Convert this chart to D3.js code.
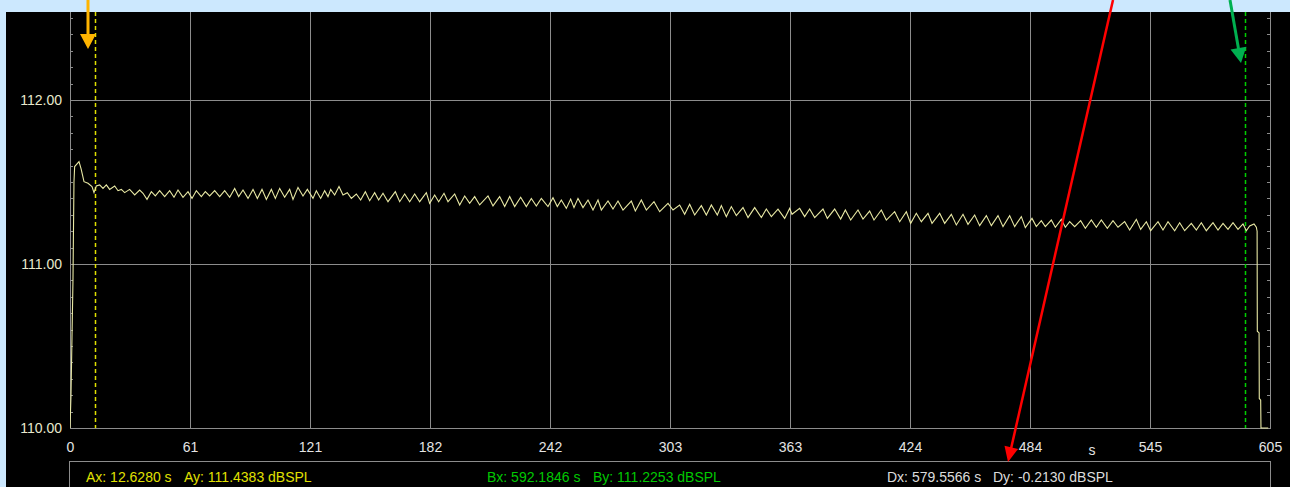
<!DOCTYPE html>
<html><head><meta charset="utf-8">
<script src="https://cdn.jsdelivr.net/npm/d3@7"></script>
<style>
html,body{margin:0;padding:0;background:#cce8fe;overflow:hidden}
svg{display:block}
text{font-family:"Liberation Sans",Arial,sans-serif}
</style></head><body>
<svg id="c" width="1290" height="487"></svg>
<script>
// ---- data (time in s, level in dBSPL) ----
const times = [0,0.5,1.0,1.5,2.0,2.35,4.54,5.6,7.06,9.08,11.09,12.10,13.28,
14.96,16.64,18.32,20.00,22.52,24.20,25.88,27.56,30.08,32.61,35.13,36.81,38.82,41.01,43.02,45.20,47.73,50.25,52.43,54.45,56.97,59.49,61.51,63.69,66.21,68.23,70.41,72.93,75.46,77.98,80.50,83.02,85.04,87.22,89.75,92.27,94.45,96.80,98.99,101.51,103.53,105.71,108.23,110.75,112.43,114.95,117.47,119.66,
122.51,124.19,126.38,128.39,130.07,131.42,133.43,135.62,137.64,139.82,141.84,144.36,146.54,148.90,151.08,153.60,155.62,157.80,160.32,164.02,166.21,168.73,171.25,173.77,176.29,179.65,181.33,183.85,185.87,188.56,190.58,193.94,196.46,198.98,201.50,204.02,206.54,210.74,213.26,216.62,219.15,221.67,224.19,227.21,230.07,232.59,235.11,237.63,240.99,
243.51,245.70,247.71,250.23,252.42,254.10,256.12,258.64,261.16,263.68,266.20,267.88,271.24,273.76,276.28,278.80,283.01,285.02,288.05,290.57,294.43,297.29,301.49,304.01,307.37,309.89,312.42,314.94,318.30,320.82,323.34,326.36,328.38,330.90,333.42,335.94,339.31,341.83,345.19,348.55,351.07,353.59,356.95,360.31,362.83,
364.01,367.87,370.39,372.91,375.44,379.64,381.82,385.52,388.54,390.90,393.59,397.28,399.80,403.16,405.35,409.05,411.57,415.77,418.29,421.65,423.84,426.69,429.21,432.58,434.59,438.46,440.98,444.34,446.86,450.22,452.74,456.10,458.62,461.99,464.51,467.87,470.39,473.75,476.27,479.63,481.65,
485.01,487.19,489.71,491.73,494.75,496.77,499.80,501.81,504.00,506.52,509.54,511.90,514.92,517.44,519.96,522.99,525.85,528.37,531.73,534.25,537.61,539.79,542.65,544.84,548.53,551.05,553.58,556.94,559.46,561.98,565.34,567.86,570.38,572.90,576.26,578.78,581.31,583.83,586.35,588.87,591.39,593.07,594.75,596.93,598.11,
598.5,598.6,599.5,599.6,600.3,600.45,604.1];
const levels = [110.00,110.20,110.55,110.90,111.50,111.594,111.624,111.58,111.502,111.492,111.472,111.435,111.476,
111.482,111.461,111.482,111.455,111.476,111.447,111.455,111.435,111.455,111.421,111.451,111.431,111.394,111.441,111.415,111.447,111.411,111.447,111.407,111.451,111.407,111.441,111.400,111.447,111.411,111.441,111.415,111.447,111.411,111.447,111.407,111.461,111.411,111.451,111.400,111.455,111.400,111.455,111.394,111.455,111.400,111.461,111.407,111.455,111.394,111.467,111.415,111.455,
111.400,111.447,111.400,111.447,111.411,111.455,111.421,111.472,111.421,111.435,111.400,111.427,111.390,111.441,111.386,111.435,111.390,111.431,111.380,111.441,111.380,111.427,111.380,111.427,111.380,111.435,111.370,111.421,111.380,111.431,111.380,111.427,111.360,111.415,111.370,111.411,111.360,111.415,111.354,111.411,111.350,111.411,111.350,111.407,111.350,111.400,111.354,111.400,111.350,
111.404,111.350,111.390,111.339,111.396,111.344,111.400,111.344,111.390,111.329,111.390,111.329,111.384,111.335,111.384,111.329,111.384,111.323,111.390,111.329,111.380,111.319,111.370,111.329,111.360,111.303,111.364,111.299,111.356,111.299,111.360,111.299,111.356,111.289,111.350,111.295,111.344,111.283,111.344,111.283,111.335,111.289,111.335,111.278,111.339,
111.303,111.339,111.289,111.335,111.283,111.335,111.278,111.335,111.274,111.329,111.268,111.329,111.274,111.323,111.268,111.329,111.268,111.319,111.258,111.319,111.248,111.309,111.258,111.309,111.248,111.309,111.248,111.303,111.238,111.303,111.242,111.299,111.234,111.295,111.234,111.295,111.228,111.295,111.228,111.289,111.222,
111.278,111.228,111.264,111.228,111.268,111.224,111.272,111.224,111.258,111.228,111.264,111.218,111.268,111.224,111.268,111.218,111.264,111.224,111.258,111.207,111.272,111.211,111.258,111.203,111.258,111.207,111.258,111.203,111.252,111.203,111.248,111.207,111.252,111.203,111.252,111.207,111.248,111.211,111.252,111.211,111.244,111.203,111.232,111.244,111.224,
111.20,110.59,110.58,110.18,110.17,110.00,110.00];

const xTickValues = [0,60.5,121,181.5,242,302.5,363,423.5,484,544.5,605];
const xTickLabels = ["0","61","121","182","242","303","363","424","484","545","605"];
const yTickValues = [110,111,112];
const yTickLabels = ["110.00","111.00","112.00"];
const xUnit = "s";
const yUnit = "dBSPL";
const cursorA = {x:12.6280, y:111.4383};
const cursorB = {x:592.1846, y:111.2253};

// ---- layout ----
const svg = d3.select("#c");
const panel = {x:6, y:12, w:1284, h:475};
const plot = {l:70, r:1270, t:12, b:428};
const x = d3.scaleLinear().domain([0,605]).range([plot.l, plot.r]);
const y = d3.scaleLinear().domain([110,112]).range([plot.b, 100]);
const gridCol = "#8c8c8c";

svg.append("rect").attr("x",panel.x).attr("y",panel.y).attr("width",panel.w).attr("height",panel.h).attr("fill","#000");

svg.append("defs").append("clipPath").attr("id","pc")
  .append("rect").attr("x",plot.l).attr("y",plot.t).attr("width",plot.r-plot.l+1).attr("height",plot.b-plot.t+1);

const g = svg.append("g");
g.selectAll("line.vg").data(xTickValues).join("line")
  .attr("x1",d=>Math.round(x(d))+0.5).attr("x2",d=>Math.round(x(d))+0.5)
  .attr("y1",plot.t).attr("y2",plot.b).attr("stroke",gridCol).attr("stroke-width",1);
g.selectAll("line.hg").data(yTickValues).join("line")
  .attr("x1",plot.l).attr("x2",plot.r)
  .attr("y1",d=>Math.round(y(d))+0.5).attr("y2",d=>Math.round(y(d))+0.5)
  .attr("stroke",gridCol).attr("stroke-width",1);
const minor = d3.range(0,26).map(i=>110+i*0.1).filter(v=>y(v)>=plot.t);
g.selectAll("line.ml").data(minor).join("line")
  .attr("x1",plot.l).attr("x2",plot.l+3)
  .attr("y1",d=>Math.round(y(d))+0.5).attr("y2",d=>Math.round(y(d))+0.5)
  .attr("stroke",gridCol);
g.selectAll("line.mr").data(minor).join("line")
  .attr("x1",plot.r-3).attr("x2",plot.r)
  .attr("y1",d=>Math.round(y(d))+0.5).attr("y2",d=>Math.round(y(d))+0.5)
  .attr("stroke",gridCol);

const ax = svg.append("g").attr("transform",`translate(0,${plot.b})`)
  .call(d3.axisBottom(x).tickValues(xTickValues).tickFormat((d,i)=>xTickLabels[i]).tickSize(0).tickPadding(14));
ax.select(".domain").remove();
ax.selectAll("text").attr("fill","#e4e4e4").attr("font-size",14).attr("font-family","Liberation Sans, Arial, sans-serif");
const ay = svg.append("g").attr("transform",`translate(${plot.l},0)`)
  .call(d3.axisLeft(y).tickValues(yTickValues).tickFormat((d,i)=>yTickLabels[i]).tickSize(0).tickPadding(8));
ay.select(".domain").remove();
ay.selectAll("text").attr("fill","#e8e8cc").attr("font-size",14).attr("font-family","Liberation Sans, Arial, sans-serif");
svg.append("text").attr("x",(x(xTickValues[8])+x(xTickValues[9]))/2+2).attr("y",plot.b+27)
  .attr("text-anchor","middle").attr("fill","#e4e4e4").attr("font-size",14).text(xUnit);

g.append("line").attr("x1",plot.l+0.5).attr("x2",plot.l+0.5).attr("y1",plot.t).attr("y2",plot.b).attr("stroke",gridCol);
g.append("line").attr("x1",plot.r+0.5).attr("x2",plot.r+0.5).attr("y1",plot.t).attr("y2",plot.b).attr("stroke",gridCol);
g.append("line").attr("x1",plot.l).attr("x2",plot.r+1).attr("y1",plot.b+0.5).attr("y2",plot.b+0.5).attr("stroke",gridCol);

const cur = svg.append("g");
[[cursorA,"#e0e000"],[cursorB,"#00d000"]].forEach(([c,col])=>{
  cur.append("line").attr("x1",Math.round(x(c.x))+0.5).attr("x2",Math.round(x(c.x))+0.5)
    .attr("y1",plot.t).attr("y2",plot.b).attr("stroke",col).attr("stroke-width",1.5).attr("stroke-dasharray","4,3");
});

const data = times.map((t,i)=>({t, v:levels[i]}));
svg.append("path").datum(data).attr("clip-path","url(#pc)")
  .attr("fill","none").attr("stroke","#e8e8a4").attr("stroke-width",1.1)
  .attr("d", d3.line().x(d=>x(d.t)).y(d=>y(d.v)));

svg.append("rect").attr("x",plot.l-0.5).attr("y",461.5).attr("width",plot.r-plot.l+1).attr("height",40)
  .attr("fill","none").attr("stroke",gridCol);
const fmt4 = v => d3.format(".4f")(v).replace("\u2212","-");
const readouts = [
  {t:`Ax: ${fmt4(cursorA.x)} ${xUnit}`, x:86, c:"#e0e000"},
  {t:`Ay: ${fmt4(cursorA.y)} ${yUnit}`, x:184, c:"#e0e000"},
  {t:`Bx: ${fmt4(cursorB.x)} ${xUnit}`, x:487, c:"#00c800"},
  {t:`By: ${fmt4(cursorB.y)} ${yUnit}`, x:593, c:"#00c800"},
  {t:`Dx: ${fmt4(cursorB.x-cursorA.x)} ${xUnit}`, x:887, c:"#dcdcdc"},
  {t:`Dy: ${fmt4(cursorB.y-cursorA.y)} ${yUnit}`, x:993, c:"#dcdcdc"}
];
svg.selectAll("text.ro").data(readouts).join("text").attr("class","ro")
  .attr("x",d=>d.x).attr("y",482).attr("fill",d=>d.c).attr("font-size",14).text(d=>d.t);

const arrows = [
  {x1:88, y1:0, x2:88, y2:49, c:"#ffb400", w:3, hw:8, hl:15},
  {x1:1230, y1:0, x2:1241, y2:63, c:"#00b050", w:3, hw:8, hl:15},
  {x1:1113, y1:0, x2:1008, y2:462, c:"#ff0000", w:2.5, hw:7, hl:15}
];
arrows.forEach(a=>{
  const dx=a.x2-a.x1, dy=a.y2-a.y1, L=Math.hypot(dx,dy), ux=dx/L, uy=dy/L;
  const bx=a.x2-ux*a.hl, by=a.y2-uy*a.hl;
  svg.append("line").attr("x1",a.x1).attr("y1",a.y1).attr("x2",bx+ux*2).attr("y2",by+uy*2)
    .attr("stroke",a.c).attr("stroke-width",a.w);
  svg.append("path").attr("fill",a.c)
    .attr("d",`M${a.x2},${a.y2}L${bx-uy*a.hw},${by+ux*a.hw}L${bx+uy*a.hw},${by-ux*a.hw}Z`);
});
</script>
</body></html>
